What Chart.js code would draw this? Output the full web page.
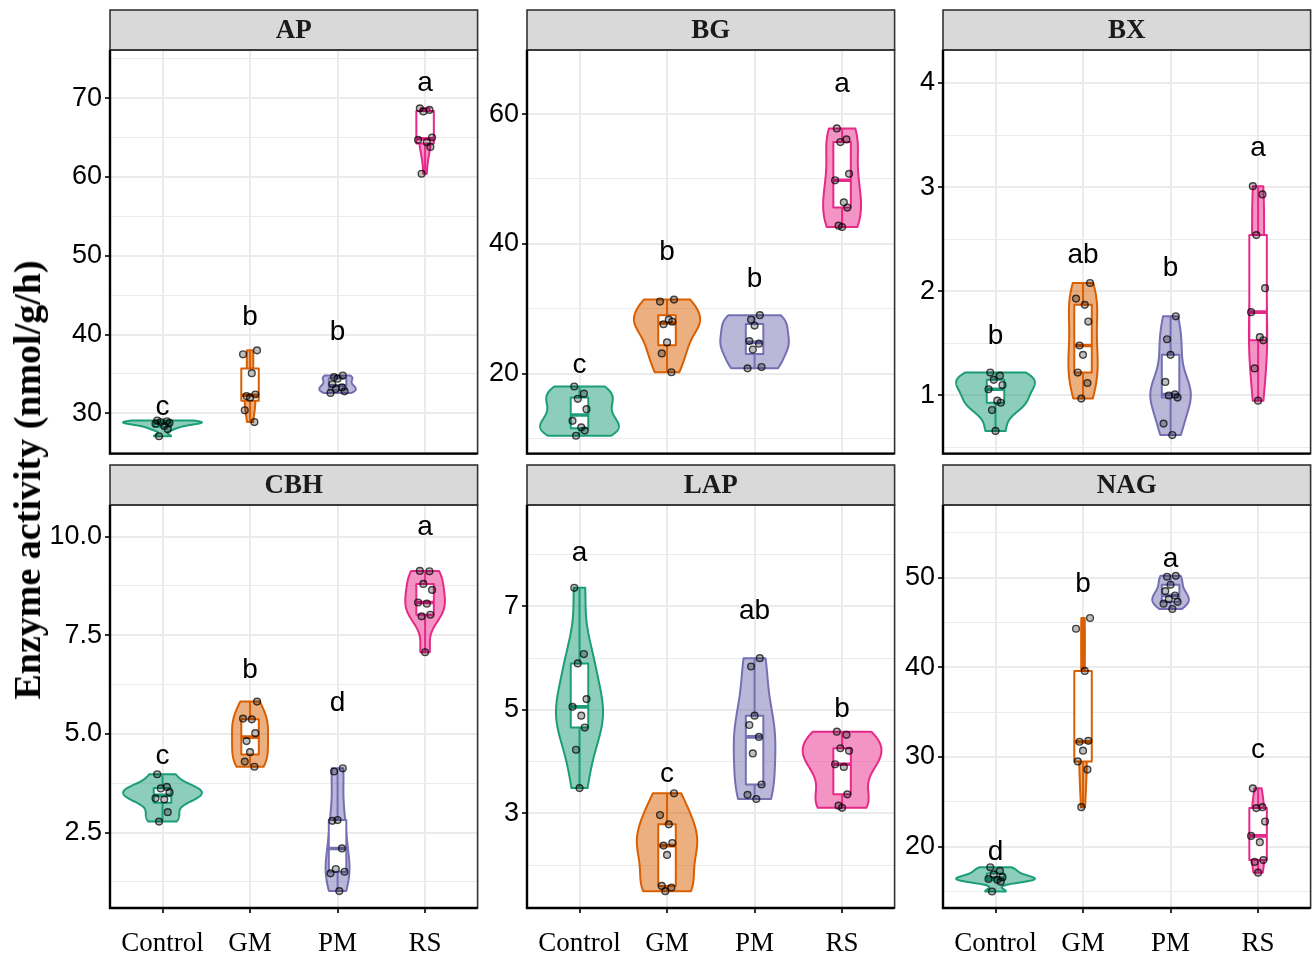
<!DOCTYPE html>
<html>
<head>
<meta charset="utf-8">
<script src="https://cdn.jsdelivr.net/npm/chart.js@4.4.1/dist/chart.umd.min.js"></script>
<style>
  body { margin: 0; background: #fff; width: 1313px; height: 956px; position: relative; overflow: hidden; }
  canvas { position: absolute; }
  #ytitle { position: absolute; left: 27px; top: 480px; transform: translate(-50%, -50%) rotate(-90deg);
            font: bold 38px "Liberation Serif"; white-space: nowrap; color: #000; z-index: 10; }
</style>
</head>
<body>
<div id="ytitle">Enzyme activity (nmol/g/h)</div>
<script>
// treatments and colours (Dark2)
const groups = ['Control', 'GM', 'PM', 'RS'];
const colors = ['#1B9E77', '#D95F02', '#7570B3', '#E7298A'];

// values per treatment
const apValues = [
  [29.1, 29.0, 28.9, 28.8, 28.7, 28.4, 28.0, 27.1],
  [38.0, 37.5, 35.1, 32.4, 32.2, 32.0, 30.4, 28.9],
  [34.8, 34.6, 34.4, 33.7, 33.3, 33.1, 32.8, 32.6],
  [68.7, 68.5, 68.3, 65.0, 64.7, 64.4, 63.8, 60.4]
];
const apLetters = ['c', 'b', 'b', 'a'];
const apLetterY = [29.75, 41.2, 39.3, 70.9];

const bgValues = [
  [18.0, 16.9, 16.1, 14.5, 12.7, 11.7, 11.2, 10.4],
  [31.4, 31.1, 28.3, 28.0, 27.6, 24.8, 23.1, 20.2],
  [29.0, 28.3, 27.4, 25.0, 24.6, 23.7, 21.0, 20.8],
  [57.8, 56.1, 55.7, 50.8, 49.8, 46.4, 45.6, 42.8, 42.6]
];
const bgLetters = ['c', 'b', 'b', 'a'];
const bgLetterY = [20.05, 37.45, 33.3, 63.35];

const bxValues = [
  [1.22, 1.19, 1.15, 1.10, 1.06, 0.95, 0.93, 0.86, 0.66],
  [2.08, 1.93, 1.87, 1.71, 1.48, 1.39, 1.22, 1.12, 0.97],
  [1.76, 1.54, 1.39, 1.13, 1.01, 1.00, 0.98, 0.73, 0.62],
  [3.01, 2.93, 2.54, 2.03, 1.80, 1.56, 1.53, 1.26, 0.95]
];
const bxLetters = ['b', 'ab', 'b', 'a'];
const bxLetterY = [1.49, 2.27, 2.15, 3.30];

const cbhValues = [
  [3.98, 3.66, 3.62, 3.52, 3.37, 3.34, 3.02, 2.78],
  [5.82, 5.39, 5.37, 5.02, 4.82, 4.54, 4.30, 4.17],
  [4.13, 4.05, 2.82, 2.80, 2.10, 1.58, 1.51, 1.47, 1.02],
  [9.13, 9.12, 8.80, 8.65, 8.33, 8.30, 8.02, 7.98, 7.07]
];
const cbhLetters = ['c', 'b', 'd', 'a'];
const cbhLetterY = [4.23, 6.43, 5.57, 10.04];

const lapValues = [
  [7.36, 6.08, 5.90, 5.21, 5.06, 4.89, 4.66, 4.23, 3.49],
  [3.39, 2.97, 2.79, 2.43, 2.38, 2.20, 1.60, 1.57, 1.50],
  [6.00, 5.84, 4.89, 4.71, 4.48, 4.16, 3.56, 3.36, 3.28],
  [4.58, 4.52, 4.26, 4.21, 3.95, 3.90, 3.37, 3.15, 3.11]
];
const lapLetters = ['a', 'c', 'ab', 'b'];
const lapLetterY = [7.87, 3.60, 6.76, 4.87];

const nagValues = [
  [17.7, 17.3, 16.9, 16.6, 16.4, 16.3, 16.1, 15.0],
  [45.5, 44.3, 39.6, 31.8, 31.7, 30.7, 29.5, 28.6, 24.4],
  [50.2, 50.1, 49.2, 48.5, 48.0, 47.6, 47.3, 47.1, 46.5],
  [26.5, 24.4, 24.3, 22.8, 21.2, 20.5, 18.5, 18.3, 17.1]
];
const nagLetters = ['d', 'b', 'a', 'c'];
const nagLetterY = [18.5, 48.4, 51.2, 29.85];

// fixed horizontal spread of the points (no randomness)
const jitterPattern = [-0.06, 0.05, -0.02, 0.08, -0.08, 0.02, 0.06, -0.04, 0.0];

const panels = [
  { name: 'AP',  values: apValues,  letters: apLetters,  letterY: apLetterY,  min: 24.9,  max: 76.1,  step: 5,    major: 10,  base: 0, dec: 0, left: 40,  top: 9,   bottom: false },
  { name: 'BG',  values: bgValues,  letters: bgLetters,  letterY: bgLetterY,  min: 7.65,  max: 69.9,  step: 10,   major: 20,  base: 0, dec: 0, left: 457, top: 9,   bottom: false },
  { name: 'BX',  values: bxValues,  letters: bxLetters,  letterY: bxLetterY,  min: 0.442, max: 4.317, step: 0.5,  major: 1,   base: 0, dec: 0, left: 873, top: 9,   bottom: false },
  { name: 'CBH', values: cbhValues, letters: cbhLetters, letterY: cbhLetterY, min: 0.592, max: 10.80, step: 1.25, major: 2.5, base: 0, dec: 1, left: 40,  top: 464, bottom: true },
  { name: 'LAP', values: lapValues, letters: lapLetters, letterY: lapLetterY, min: 1.174, max: 8.96,  step: 1,    major: 2,   base: 1, dec: 0, left: 457, top: 464, bottom: true },
  { name: 'NAG', values: nagValues, letters: nagLetters, letterY: nagLetterY, min: 13.16, max: 58.1,  step: 5,    major: 10,  base: 0, dec: 0, left: 873, top: 464, bottom: true }
];

function quantile(sorted, p) {
  const h = (sorted.length - 1) * p;
  const lo = Math.floor(h);
  const hi = Math.min(lo + 1, sorted.length - 1);
  return sorted[lo] + (h - lo) * (sorted[hi] - sorted[lo]);
}

function boxStats(vals) {
  const s = vals.slice().sort((a, b) => a - b);
  const q1 = quantile(s, 0.25), med = quantile(s, 0.5), q3 = quantile(s, 0.75);
  const iqr = q3 - q1;
  const lo = s.find(v => v >= q1 - 1.5 * iqr);
  const hi = s.slice().reverse().find(v => v <= q3 + 1.5 * iqr);
  return { q1, med, q3, lo, hi };
}

// gaussian kde, bw.nrd0, trimmed to data range (like geom_violin)
function kde(vals) {
  const s = vals.slice().sort((a, b) => a - b);
  const n = s.length;
  const mean = s.reduce((a, b) => a + b, 0) / n;
  const sd = Math.sqrt(s.reduce((a, b) => a + (b - mean) * (b - mean), 0) / (n - 1));
  const iqr = quantile(s, 0.75) - quantile(s, 0.25);
  let lo = Math.min(sd, iqr / 1.34);
  if (!lo) lo = sd || 1;
  const bw = 0.9 * lo * Math.pow(n, -0.2);
  const out = [];
  const steps = 200;
  for (let k = 0; k <= steps; k++) {
    const y = s[0] + (s[n - 1] - s[0]) * k / steps;
    let d = 0;
    s.forEach(v => { const z = (y - v) / bw; d += Math.exp(-0.5 * z * z); });
    out.push({ y: y, d: d / (n * bw * Math.sqrt(2 * Math.PI)) });
  }
  return out;
}

function makePanel(cfg) {
  const canvas = document.createElement('canvas');
  canvas.width = 443;
  canvas.height = cfg.bottom ? 492 : 450;
  canvas.style.left = cfg.left + 'px';
  canvas.style.top = cfg.top + 'px';
  document.body.appendChild(canvas);

  const dens = cfg.values.map(kde);
  const maxD = Math.max(...dens.map(g => Math.max(...g.map(p => p.d))));
  const stats = cfg.values.map(boxStats);
  const isMajor = v => Math.abs((v - cfg.base) / cfg.major - Math.round((v - cfg.base) / cfg.major)) < 1e-6;

  const points = [];
  cfg.values.forEach((vals, i) => vals.forEach((v, j) => {
    points.push({ x: i + 1 + jitterPattern[(j + 3 * i) % jitterPattern.length], y: v });
  }));

  const violinPlugin = {
    id: 'violins' + cfg.name,
    beforeDatasetsDraw(chart) {
      const { ctx, chartArea: a, scales: { x, y } } = chart;
      const unit = x.getPixelForValue(2) - x.getPixelForValue(1);
      ctx.save();
      ctx.beginPath();
      ctx.rect(a.left, a.top, a.right - a.left, a.bottom - a.top);
      ctx.clip();
      dens.forEach((g, i) => {
        const cx = x.getPixelForValue(i + 1);
        ctx.beginPath();
        g.forEach((p, k) => {
          const px = cx + 0.45 * unit * p.d / maxD;
          const py = y.getPixelForValue(p.y);
          if (k === 0) ctx.moveTo(px, py); else ctx.lineTo(px, py);
        });
        for (let k = g.length - 1; k >= 0; k--) {
          ctx.lineTo(cx - 0.45 * unit * g[k].d / maxD, y.getPixelForValue(g[k].y));
        }
        ctx.closePath();
        ctx.globalAlpha = 0.5;
        ctx.fillStyle = colors[i];
        ctx.fill();
        ctx.globalAlpha = 1;
        ctx.strokeStyle = colors[i];
        ctx.lineWidth = 2;
        ctx.lineJoin = 'round';
        ctx.stroke();

        // boxplot
        const b = stats[i];
        const hw = 0.1 * unit;
        ctx.lineWidth = 2;
        ctx.beginPath();
        ctx.moveTo(cx, y.getPixelForValue(b.q3));
        ctx.lineTo(cx, y.getPixelForValue(b.hi));
        ctx.moveTo(cx, y.getPixelForValue(b.q1));
        ctx.lineTo(cx, y.getPixelForValue(b.lo));
        ctx.stroke();
        const top = y.getPixelForValue(b.q3), bot = y.getPixelForValue(b.q1);
        ctx.fillStyle = '#fff';
        ctx.fillRect(cx - hw, top, 2 * hw, bot - top);
        ctx.strokeRect(cx - hw, top, 2 * hw, bot - top);
        ctx.lineWidth = 3.6;
        ctx.beginPath();
        ctx.moveTo(cx - hw, y.getPixelForValue(b.med));
        ctx.lineTo(cx + hw, y.getPixelForValue(b.med));
        ctx.stroke();
      });
      ctx.restore();
    },
    afterDatasetsDraw(chart) {
      const { ctx, scales: { x, y } } = chart;
      ctx.save();
      ctx.font = '28px "Liberation Sans"';
      ctx.fillStyle = '#000';
      ctx.textAlign = 'center';
      ctx.textBaseline = 'alphabetic';
      cfg.letters.forEach((t, i) => ctx.fillText(t, x.getPixelForValue(i + 1), y.getPixelForValue(cfg.letterY[i])));
      ctx.restore();
    },
    afterDraw(chart) {
      const { ctx, chartArea: a } = chart;
      ctx.save();
      // strip
      ctx.fillStyle = '#D9D9D9';
      ctx.fillRect(a.left, a.top - 40, a.right - a.left, 40);
      ctx.strokeStyle = '#333';
      ctx.lineWidth = 1.6;
      ctx.strokeRect(a.left, a.top - 40, a.right - a.left, 40);
      ctx.fillStyle = '#1a1a1a';
      ctx.font = 'bold 27px "Liberation Serif"';
      ctx.textAlign = 'center';
      ctx.textBaseline = 'middle';
      ctx.fillText(cfg.name, (a.left + a.right) / 2, a.top - 19);
      // panel border
      ctx.strokeRect(a.left, a.top, a.right - a.left, a.bottom - a.top);
      ctx.strokeStyle = '#000';
      ctx.lineWidth = 2.4;
      ctx.beginPath();
      ctx.moveTo(a.left, a.top);
      ctx.lineTo(a.left, a.bottom);
      ctx.lineTo(a.right, a.bottom);
      ctx.stroke();
      ctx.restore();
    }
  };

  new Chart(canvas, {
    type: 'scatter',
    data: {
      datasets: [{
        data: points,
        pointRadius: 3.4,
        pointBorderWidth: 1.4,
        pointBackgroundColor: 'rgba(0,0,0,0.25)',
        pointBorderColor: 'rgba(0,0,0,0.7)'
      }]
    },
    options: {
      responsive: false,
      animation: false,
      devicePixelRatio: 1,
      events: [],
      layout: { padding: { top: 41, right: 0, left: 0, bottom: 0 } },
      plugins: { legend: { display: false }, tooltip: { enabled: false } },
      scales: {
        x: {
          type: 'linear', min: 0.4, max: 4.6,
          afterBuildTicks: s => { s.ticks = groups.map((g, i) => ({ value: i + 1 })); },
          afterFit: s => { s.height = cfg.bottom ? 48 : 2; s.paddingLeft = 0; s.paddingRight = 0; },
          border: { display: false },
          grid: { color: '#EBEBEB', lineWidth: 2, drawTicks: cfg.bottom, tickLength: 5, tickColor: '#000', tickWidth: 1.6 },
          ticks: {
            display: cfg.bottom, autoSkip: false, maxRotation: 0, padding: 15,
            font: { family: 'Liberation Serif', size: 27 }, color: '#000',
            callback: v => groups[Math.round(v) - 1]
          }
        },
        y: {
          type: 'linear', min: cfg.min, max: cfg.max,
          afterFit: s => { s.width = 70; s.paddingTop = 0; s.paddingBottom = 0; },
          border: { display: false },
          grid: {
            color: '#EBEBEB',
            lineWidth: c => (c.tick && !isMajor(c.tick.value)) ? 1.1 : 2,
            tickLength: 5,
            tickWidth: 1.6,
            tickColor: c => (c.tick && !isMajor(c.tick.value)) ? 'rgba(0,0,0,0)' : '#000'
          },
          ticks: {
            stepSize: cfg.step, includeBounds: false, autoSkip: false, padding: 3,
            font: { family: 'Liberation Sans', size: 27 }, color: '#000',
            callback: v => isMajor(v) ? v.toFixed(cfg.dec) : ''
          }
        }
      }
    },
    plugins: [violinPlugin]
  });
}

panels.forEach(makePanel);
</script>
</body>
</html>
